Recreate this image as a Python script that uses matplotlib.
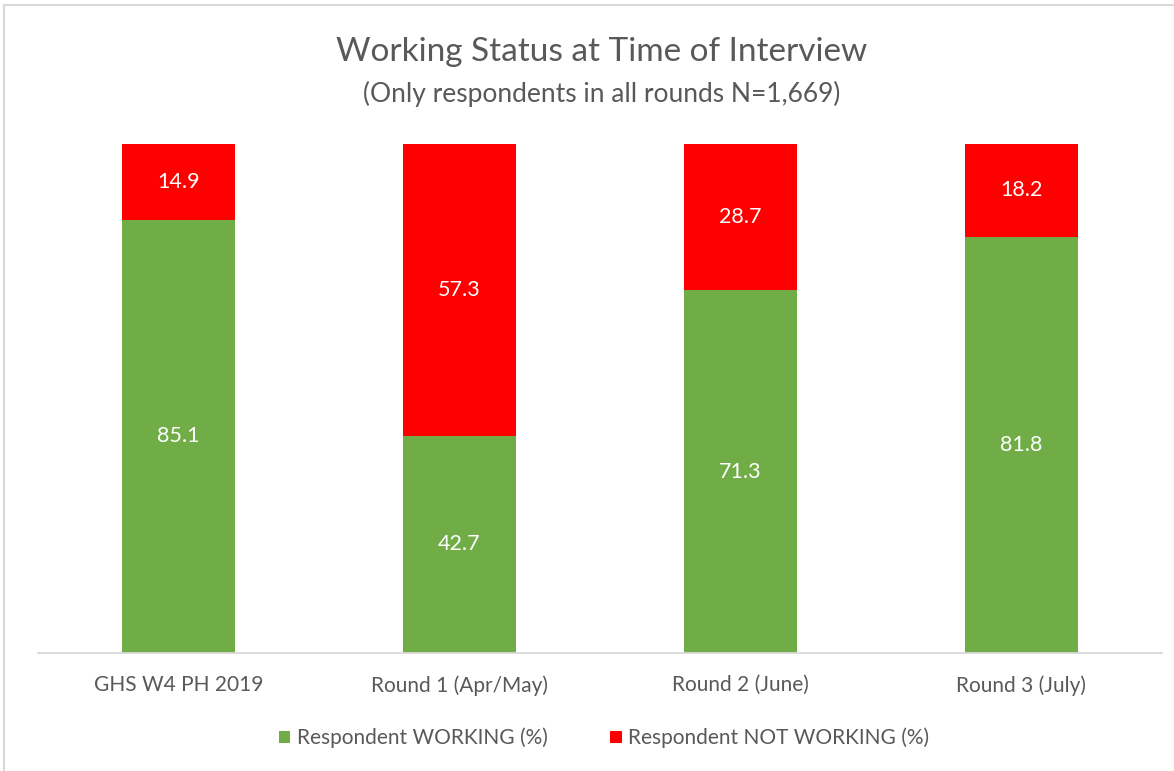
import numpy as np
import matplotlib
matplotlib.use('Agg')
from matplotlib import pyplot as plt
from matplotlib.lines import Line2D

plt.rcParams['font.family'] = ['Lato', 'DejaVu Sans']

categories = ['GHS W4 PH 2019', 'Round 1 (Apr/May)', 'Round 2 (June)', 'Round 3 (July)']
working = [85.1, 42.7, 71.3, 81.8]
not_working = [14.9, 57.3, 28.7, 18.2]
series_names = ['Respondent WORKING (%)', 'Respondent NOT WORKING (%)']

green = '#70AD47'
red = '#FF0000'
grey_text = '#595959'

W, H = 1174, 771
fig = plt.figure(figsize=(W / 100, H / 100), dpi=100)
ax = fig.add_axes([38 / W, (H - 653) / H, (1162 - 38) / W, (653 - 144) / H])

x = np.arange(len(categories))
b1 = ax.bar(x, working, width=0.4, color=green, label=series_names[0])
b2 = ax.bar(x, not_working, width=0.4, bottom=working, color=red, label=series_names[1])

# value labels in the middle of each segment
for i in range(len(categories)):
    ax.text(x[i], working[i] / 2, '%.1f' % working[i], ha='center', va='center',
            color='white', fontsize=15.5)
    ax.text(x[i], working[i] + not_working[i] / 2, '%.1f' % not_working[i],
            ha='center', va='center', color='white', fontsize=15.5)

ax.set_xlim(-0.5, len(categories) - 0.5)
ax.set_ylim(0, 100)
ax.set_yticks([])
ax.set_xticks(x)
ax.set_xticklabels(categories, fontsize=15, color=grey_text)
ax.tick_params(axis='x', length=0, pad=16)
for s in ['top', 'right', 'left']:
    ax.spines[s].set_visible(False)
ax.spines['bottom'].set_color('#D9D9D9')
ax.spines['bottom'].set_linewidth(1.3)

cx = 602 / W
fig.text(cx, (H - 52) / H, 'Working Status at Time of Interview', ha='center', va='center',
         fontsize=24, color=grey_text)
fig.text(cx, (H - 94) / H, '(Only respondents in all rounds N=1,669)', ha='center', va='center',
         fontsize=19, color=grey_text)

leg = fig.legend(handles=[b1, b2], loc='center', bbox_to_anchor=(604 / W, (H - 738) / H),
                 ncol=2, frameon=False, fontsize=15, handlelength=0.55, handleheight=0.55,
                 handletextpad=0.3, columnspacing=3.0, labelcolor=grey_text)

# chart border (top and left visible in screenshot)
fig.add_artist(Line2D([4 / W, 4 / W], [0, (H - 5) / H], color='#D9D9D9', lw=1.5))
fig.add_artist(Line2D([4 / W, 1], [(H - 5) / H, (H - 5) / H], color='#D9D9D9', lw=1.5))

fig.savefig('out.png', dpi=100)
